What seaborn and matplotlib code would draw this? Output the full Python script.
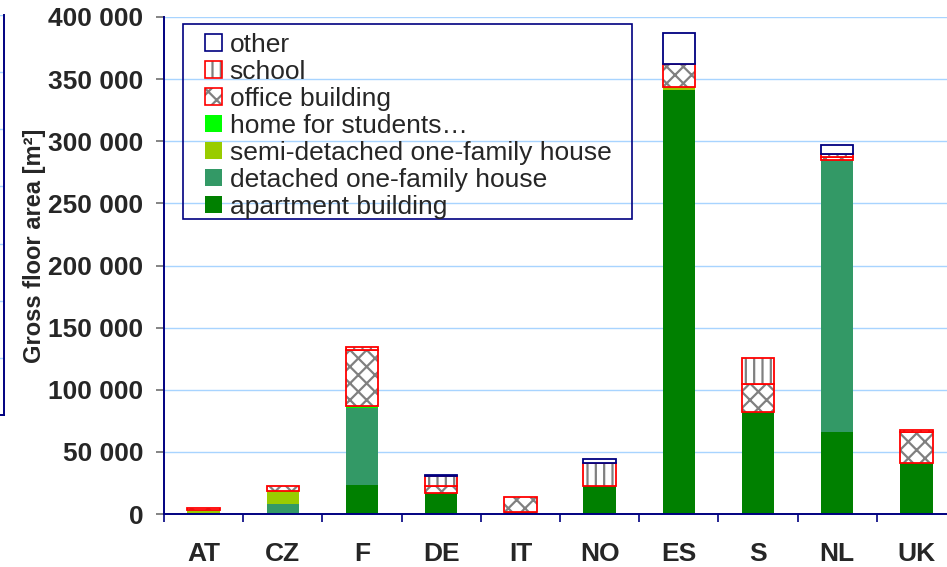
import matplotlib
matplotlib.use('Agg')
import matplotlib.pyplot as plt
from matplotlib.patches import Patch, Rectangle
from matplotlib.ticker import FuncFormatter, MultipleLocator
import seaborn as sns

# data (gross floor area, m2)
countries = ['AT', 'CZ', 'F', 'DE', 'IT', 'NO', 'ES', 'S', 'NL', 'UK']
apartment = [800, 0, 23300, 16700, 1500, 22800, 341000, 82400, 66000, 41300]
detached = [0, 8000, 62000, 0, 0, 0, 0, 0, 219000, 0]
semi_detached = [2500, 10700, 0, 0, 0, 0, 2500, 0, 0, 0]
students = [0, 0, 1500, 0, 0, 0, 0, 0, 0, 0]
office = [1200, 3500, 45000, 6200, 12000, 0, 19000, 22000, 2000, 24500]
school = [0, 0, 2700, 7800, 0, 18000, 0, 21000, 3000, 1900]
other = [0, 0, 0, 1000, 0, 3200, 25000, 0, 7200, 0]

legend_labels = ['other', 'school', 'office building', 'home for students…',
                 'semi-detached one-family house', 'detached one-family house',
                 'apartment building']

sns.set_theme(style='white')
plt.rcParams['font.family'] = ['Liberation Sans', 'DejaVu Sans']
plt.rcParams['hatch.linewidth'] = 1.6
plt.rcParams['hatch.color'] = '#808080'

NAVY = '#000080'
GRID = '#A8D4FF'
HATCH_GRAY = '#808080'

fig = plt.figure(figsize=(9.47, 5.67), dpi=100)
ax = fig.add_axes([164 / 947, 53 / 567, 792 / 947, 497 / 567])


def stack(vals, bottom, color, **kw):
    n0 = len(ax.patches)
    sns.barplot(x=countries, y=vals, order=countries, bottom=bottom, width=0.41,
                errorbar=None, color=color, saturation=1, ax=ax, **kw)
    for p, v in zip(ax.patches[n0:], vals):
        if v == 0:
            p.set_visible(False)


bottom = [0] * len(countries)
solid = [(apartment, '#008000'), (detached, '#339966'),
         (semi_detached, '#99CC00'), (students, '#00FF00')]
for vals, col in solid:
    stack(vals, bottom, col, facecolor=col, edgecolor=col, linewidth=0)
    bottom = [b + v for b, v in zip(bottom, vals)]

for vals, hatch in [(office, 'xx'), (school, '||')]:
    stack(vals, bottom, 'white', facecolor='white', edgecolor=HATCH_GRAY, linewidth=0, hatch=hatch)
    stack(vals, bottom, 'white', facecolor='none', edgecolor='#FF0000', linewidth=1.3)
    bottom = [b + v for b, v in zip(bottom, vals)]

stack(other, bottom, 'white', facecolor='white', edgecolor=NAVY, linewidth=1.3)

ax.set_ylim(0, 400000)
ax.set_xlim(-0.5, len(countries) - 0.5)
ax.yaxis.set_major_locator(MultipleLocator(50000))
ax.yaxis.set_major_formatter(FuncFormatter(lambda v, p: f'{int(v):,}'.replace(',', ' ')))
ax.yaxis.grid(True, color=GRID, linewidth=1)
ax.xaxis.grid(False)
ax.set_axisbelow(True)

ax.set_xticks(range(len(countries)))
ax.set_xticklabels(countries)
ax.set_xticks([i - 0.5 for i in range(len(countries) + 1)], minor=True)
ax.tick_params(axis='x', which='major', length=0, pad=20, labelsize=19)
ax.tick_params(axis='x', which='minor', length=6, width=1.2, color=NAVY, direction='out', bottom=True)
ax.tick_params(axis='y', length=6, width=1.2, color='#707070', direction='out', left=True,
               pad=9, labelsize=19)
for lab in ax.get_xticklabels() + ax.get_yticklabels():
    lab.set_fontweight('bold')

ax.set_xlabel('')
ax.set_ylabel('Gross floor area [m²]', fontsize=17, fontweight='bold')
ax.yaxis.set_label_coords(-0.1495, 0.54)

for s in ['top', 'right']:
    ax.spines[s].set_visible(False)
for s in ['left', 'bottom']:
    ax.spines[s].set_color(NAVY)
    ax.spines[s].set_linewidth(1.4)

# legend
handles = [
    Patch(facecolor='white', edgecolor=NAVY, linewidth=1.2),
    (Patch(facecolor='white', edgecolor=HATCH_GRAY, linewidth=0, hatch='||'),
     Patch(facecolor='none', edgecolor='#FF0000', linewidth=1.2)),
    (Patch(facecolor='white', edgecolor=HATCH_GRAY, linewidth=0, hatch='xx'),
     Patch(facecolor='none', edgecolor='#FF0000', linewidth=1.2)),
    Patch(facecolor='#00FF00', linewidth=0),
    Patch(facecolor='#99CC00', linewidth=0),
    Patch(facecolor='#339966', linewidth=0),
    Patch(facecolor='#008000', linewidth=0),
]
fig.legend(handles, legend_labels, loc='upper left', bbox_to_anchor=(205 / 947, 1 - 32.5 / 567),
           bbox_transform=fig.transFigure, frameon=False, fontsize=19, borderpad=0,
           borderaxespad=0, handlelength=0.63, handleheight=0.62, handletextpad=0.3,
           labelspacing=0.117)
fig.add_artist(Rectangle((183 / 947, 1 - 219 / 567), 449 / 947, 195 / 567,
                         transform=fig.transFigure, facecolor='none', edgecolor=NAVY,
                         linewidth=1.2))

# fragment of the neighbouring chart at the left edge
ax2 = fig.add_axes([-0.05, 152 / 567, 0.05 + 3.5 / 947, 400 / 567])
ax2.set_xlim(0, 1)
ax2.set_ylim(0, 7)
ax2.set_yticks(range(8))
ax2.set_xticks([])
ax2.yaxis.grid(True, color=GRID, linewidth=1)
ax2.tick_params(left=False, labelleft=False)
for s in ['top', 'left']:
    ax2.spines[s].set_visible(False)
for s in ['right', 'bottom']:
    ax2.spines[s].set_color(NAVY)
    ax2.spines[s].set_linewidth(1.4)

fig.savefig('out.png', dpi=100)
